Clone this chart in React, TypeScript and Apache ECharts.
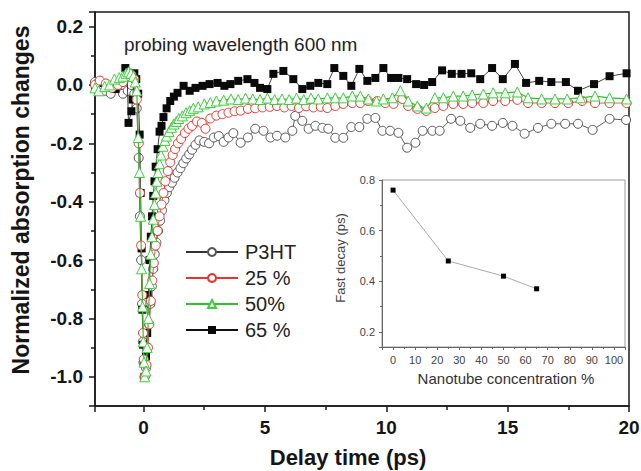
import React, { useEffect, useRef } from 'react';
import * as echarts from 'echarts';

const FONT = '"Liberation Sans", Arial, sans-serif';

// Main chart series: [delay time (ps), normalized absorption change]
const p3htData: number[][] = [
  [-2.0, 0.01], [-1.8, 0.01], [-1.6, -0.02], [-1.35, -0.03], [-1.1, -0.01], [-0.85, -0.03], [-0.65, -0.02], [-0.5, 0.0], [-0.38, -0.03], [-0.28, -0.08],
  [-0.2, -0.25], [-0.15, -0.45], [-0.1, -0.6], [-0.06, -0.75], [-0.03, -0.88], [0.0, -0.95], [0.04, -1.0],
  [0.1, -0.97], [0.16, -0.9], [0.22, -0.82], [0.28, -0.75], [0.34, -0.69], [0.4, -0.63], [0.46, -0.58], [0.53, -0.54], [0.6, -0.5], [0.68, -0.465], [0.76, -0.43], [0.86, -0.395], [0.96, -0.37], [1.06, -0.35], [1.17, -0.335], [1.28, -0.318], [1.4, -0.3], [1.52, -0.285], [1.64, -0.268], [1.76, -0.252], [1.88, -0.238], [2.0, -0.222], [2.14, -0.205], [2.3, -0.19], [2.5, -0.195], [2.7, -0.2], [2.9, -0.18], [3.1, -0.175], [3.3, -0.195], [3.5, -0.18], [3.7, -0.165], [4.0, -0.198], [4.3, -0.18], [4.6, -0.15], [4.94, -0.157], [5.23, -0.18], [5.5, -0.174], [5.84, -0.18], [6.13, -0.157], [6.25, -0.106], [6.54, -0.123], [6.8, -0.15], [7.08, -0.14],
  [7.37, -0.147], [7.61, -0.15], [7.9, -0.181], [8.23, -0.181], [8.56, -0.144], [8.89, -0.144], [9.22, -0.116], [9.55, -0.113], [9.84, -0.157], [10.16, -0.157], [10.5, -0.164], [10.86, -0.215], [11.2, -0.198], [11.5, -0.157], [11.9, -0.157], [12.2, -0.157], [12.67, -0.116], [13.05, -0.123], [13.46, -0.147], [13.87, -0.133], [14.36, -0.14], [14.8, -0.13], [15.2, -0.14], [15.7, -0.167], [16.25, -0.147], [16.8, -0.133], [17.37, -0.133], [17.9, -0.133], [18.5, -0.154], [19.2, -0.116], [19.88, -0.12],
];

const pct25Data: number[][] = [
  [-2.0, 0.0], [-1.8, 0.015], [-1.55, 0.005], [-1.3, -0.01], [-1.05, 0.0], [-0.85, 0.01], [-0.65, 0.03], [-0.5, 0.035], [-0.38, 0.02], [-0.28, -0.05],
  [-0.2, -0.2], [-0.15, -0.37], [-0.1, -0.55], [-0.05, -0.72], [-0.02, -0.85], [0.01, -0.94], [0.05, -1.0],
  [0.12, -0.96], [0.18, -0.9], [0.24, -0.82], [0.3, -0.74], [0.36, -0.67], [0.42, -0.61], [0.5, -0.55], [0.58, -0.5], [0.66, -0.45], [0.74, -0.41], [0.82, -0.37], [0.9, -0.33], [1.0, -0.295], [1.1, -0.265], [1.2, -0.24], [1.3, -0.22], [1.42, -0.2], [1.55, -0.185], [1.7, -0.165], [1.85, -0.15], [2.0, -0.14], [2.2, -0.125], [2.4, -0.13], [2.55, -0.15], [2.75, -0.115], [3.0, -0.105], [3.25, -0.1], [3.5, -0.095], [3.75, -0.09], [4.0, -0.088], [4.3, -0.082], [4.6, -0.08], [4.9, -0.077], [5.2, -0.075], [5.5, -0.072], [5.8, -0.077], [6.1, -0.072], [6.4, -0.079], [6.7, -0.073], [7.0, -0.077], [7.3, -0.075],
  [7.57, -0.079], [7.9, -0.072], [8.23, -0.065], [8.6, -0.062], [8.93, -0.062], [9.26, -0.055], [9.63, -0.055], [9.96, -0.062], [10.3, -0.065], [10.66, -0.048], [10.9, -0.072], [11.28, -0.082], [11.65, -0.089], [12.0, -0.079], [12.35, -0.072], [12.76, -0.065], [13.17, -0.065], [13.54, -0.062], [14.0, -0.062], [14.4, -0.055], [14.9, -0.055], [15.4, -0.051], [15.84, -0.062], [16.4, -0.062], [16.95, -0.062], [17.5, -0.062], [18.07, -0.055], [18.6, -0.062], [19.2, -0.062], [19.9, -0.062],
];

const pct50Data: number[][] = [
  [-2.0, -0.01], [-1.85, -0.02], [-1.6, -0.005], [-1.4, 0.0], [-1.2, 0.02], [-1.0, 0.025], [-0.85, 0.03], [-0.72, 0.04], [-0.62, 0.045], [-0.52, 0.04], [-0.42, 0.03], [-0.34, 0.01], [-0.28, -0.02],
  [-0.22, -0.18], [-0.17, -0.3], [-0.12, -0.45], [-0.08, -0.63], [-0.04, -0.76], [-0.01, -0.88], [0.02, -0.95], [0.05, -1.0],
  [0.1, -0.98], [0.15, -0.9], [0.2, -0.8], [0.25, -0.68], [0.3, -0.58], [0.35, -0.52], [0.4, -0.46], [0.45, -0.41], [0.5, -0.37], [0.55, -0.33], [0.6, -0.3], [0.66, -0.27], [0.72, -0.24], [0.8, -0.21], [0.88, -0.19], [0.95, -0.175], [1.05, -0.16], [1.15, -0.145], [1.25, -0.134], [1.35, -0.125], [1.45, -0.115], [1.6, -0.106], [1.75, -0.095], [1.9, -0.088], [2.05, -0.08], [2.25, -0.075], [2.5, -0.065], [2.75, -0.06], [3.0, -0.055], [3.3, -0.052], [3.6, -0.048], [3.9, -0.05], [4.2, -0.045], [4.5, -0.048], [4.8, -0.05], [5.1, -0.045], [5.4, -0.05], [5.7, -0.048], [6.0, -0.05], [6.3, -0.045], [6.6, -0.05], [6.9, -0.045], [7.2, -0.048],
  [7.57, -0.044], [7.9, -0.044], [8.23, -0.044], [8.6, -0.038], [8.93, -0.038], [9.26, -0.048], [9.6, -0.055], [9.88, -0.048], [10.25, -0.044], [10.58, -0.02], [10.9, -0.055], [11.28, -0.072], [11.65, -0.079], [12.0, -0.044], [12.35, -0.044], [12.76, -0.038], [13.17, -0.038], [13.54, -0.034], [14.0, -0.031], [14.4, -0.027], [14.9, -0.027], [15.4, -0.024], [15.84, -0.044], [16.4, -0.048], [16.95, -0.048], [17.45, -0.048], [18.0, -0.044], [18.6, -0.038], [19.2, -0.044], [19.9, -0.048],
];

const pct65Data: number[][] = [
  [-2.0, -0.01], [-1.85, 0.007], [-1.5, -0.003], [-1.15, -0.014], [-0.9, 0.01], [-0.75, 0.058], [-0.68, 0.04], [-0.62, -0.13], [-0.5, -0.09], [-0.45, -0.05], [-0.38, 0.04], [-0.3, 0.02], [-0.22, -0.03],
  [-0.16, -0.17], [-0.12, -0.37], [-0.08, -0.56], [-0.05, -0.77], [-0.02, -0.89], [0.01, -0.95], [0.04, -1.0],
  [0.1, -0.93], [0.15, -0.85], [0.2, -0.72], [0.25, -0.6], [0.3, -0.52], [0.35, -0.45], [0.4, -0.38], [0.45, -0.33], [0.5, -0.28], [0.58, -0.22], [0.66, -0.16], [0.74, -0.14], [0.82, -0.11], [0.95, -0.08], [1.1, -0.055], [1.25, -0.04], [1.4, -0.027], [1.65, -0.003], [1.9, -0.02], [2.14, -0.01], [2.43, -0.003], [2.72, 0.003], [3.05, 0.007], [3.33, -0.003], [3.58, 0.003], [3.9, 0.014], [4.28, 0.02], [4.57, 0.007], [4.8, -0.01], [5.1, -0.014], [5.35, 0.038], [5.76, 0.048], [6.17, 0.02], [6.54, -0.014], [6.87, -0.003], [7.2, 0.007],
  [7.57, 0.003], [7.86, 0.058], [8.23, 0.031], [8.56, -0.003], [8.89, 0.055], [9.22, 0.014], [9.55, 0.024], [9.88, 0.058], [10.2, 0.024], [10.5, 0.024], [10.86, 0.02], [11.23, 0.003], [11.56, 0.0], [11.89, 0.01], [12.3, 0.05], [12.7, 0.038], [13.1, 0.038], [13.5, 0.04], [13.87, 0.02], [14.36, 0.058], [14.8, 0.02], [15.3, 0.072], [15.76, 0.007], [16.3, 0.014], [16.8, 0.01], [17.4, 0.01], [17.9, -0.02], [18.56, 0.003], [19.2, 0.03], [19.9, 0.04],
];

// Inset
const insetConcentration = [0, 25, 50, 65];
const insetFastDecay = [0.76, 0.48, 0.42, 0.37];

const seriesNames = ['P3HT', '25 %', '50%', '65 %'];

function yLabel(v: number): string {
  const k = Math.round(v * 10);
  if (Math.abs(v * 10 - k) > 1e-6) return '';
  if (k % 2 !== 0 || k < -10 || k > 2) return '';
  return (k / 10).toFixed(1);
}

export default function App() {
  const ref = useRef<HTMLDivElement>(null);
  useEffect(() => {
    const chart = echarts.init(ref.current!, null, { renderer: 'svg' });
    const axisColor = '#1a1a1a';
    const option: any = {
      animation: false,
      backgroundColor: '#ffffff',
      grid: [
        { left: 95, top: 12, width: 534, height: 394, show: true, borderColor: axisColor, borderWidth: 1.5, outerBoundsMode: 'none', containLabel: false },
        { left: 382, top: 180, width: 243, height: 167, show: true, borderColor: '#9a9a9a', borderWidth: 1, backgroundColor: '#fff', outerBoundsMode: 'none', containLabel: false },
      ],
      xAxis: [
        {
          type: 'value', gridIndex: 0, min: -2, max: 20, splitNumber: 4,
          axisLine: { onZero: false, lineStyle: { color: axisColor, width: 1.5 } },
          axisTick: { length: 6, lineStyle: { color: axisColor, width: 1.5 } },
          minorTick: { show: true, splitNumber: 2, length: 4, lineStyle: { color: axisColor, width: 1.5 } },
          splitLine: { show: false },
          axisLabel: {
            margin: 12, fontSize: 19, fontWeight: 'bold', fontFamily: FONT, color: '#151515',
            formatter: (v: number) => (Math.abs(v % 5) < 1e-9 ? String(v) : ''),
          },
        },
        {
          type: 'value', gridIndex: 1, min: -5, max: 105, splitNumber: 11,
          axisLine: { onZero: false, lineStyle: { color: '#666', width: 1 } },
          axisTick: { length: 3, lineStyle: { color: '#666' } },
          minorTick: { show: true, splitNumber: 2, length: 2, lineStyle: { color: '#666' } },
          splitLine: { show: false },
          axisLabel: {
            margin: 7, fontSize: 11, fontFamily: FONT, color: '#444',
            formatter: (v: number) => (v >= 0 && v <= 100 && Math.abs(v % 10) < 1e-9 ? String(v) : ''),
          },
        },
      ],
      yAxis: [
        {
          type: 'value', gridIndex: 0, min: -1.1, max: 0.25, splitNumber: 6,
          axisLine: { onZero: false, lineStyle: { color: axisColor, width: 1.5 } },
          axisTick: { length: 6, lineStyle: { color: axisColor, width: 1.5 } },
          minorTick: { show: true, splitNumber: 2, length: 4, lineStyle: { color: axisColor, width: 1.5 } },
          splitLine: { show: false },
          axisLabel: { margin: 12, fontSize: 19, fontWeight: 'bold', fontFamily: FONT, color: '#151515', formatter: yLabel },
        },
        {
          type: 'value', gridIndex: 1, min: 0.14, max: 0.8, splitNumber: 3,
          axisLine: { onZero: false, lineStyle: { color: '#666', width: 1 } },
          axisTick: { length: 3, lineStyle: { color: '#666' } },
          minorTick: { show: true, splitNumber: 2, length: 2, lineStyle: { color: '#666' } },
          splitLine: { show: false },
          axisLabel: {
            margin: 7, fontSize: 11, fontFamily: FONT, color: '#444',
            formatter: (v: number) => {
              const k = Math.round(v * 10);
              if (Math.abs(v * 10 - k) > 1e-6 || k % 2 !== 0) return '';
              return (k / 10).toFixed(1);
            },
          },
        },
      ],
      legend: {
        orient: 'vertical', left: 180, top: 237, itemWidth: 52, itemHeight: 10, itemGap: 6,
        data: seriesNames,
        textStyle: { fontSize: 20, fontFamily: FONT, color: '#222', padding: [0, 0, 0, 2] },
      },
      series: [
        {
          name: seriesNames[0], type: 'line', data: p3htData, z: 2,
          symbol: 'circle', symbolSize: 9,
          itemStyle: { color: '#ffffff', borderColor: '#555', borderWidth: 1 },
          lineStyle: { color: '#333', width: 0.8 },
        },
        {
          name: seriesNames[1], type: 'line', data: pct25Data, z: 4,
          symbol: 'circle', symbolSize: 9,
          itemStyle: { color: '#ffffff', borderColor: '#e5352f', borderWidth: 1 },
          lineStyle: { color: '#e5352f', width: 0.8 },
        },
        {
          name: seriesNames[2], type: 'line', data: pct50Data, z: 5,
          symbol: 'triangle', symbolSize: 10,
          itemStyle: { color: '#ffffff', borderColor: '#3ccf3c', borderWidth: 1 },
          lineStyle: { color: '#2fbf2f', width: 1.2 },
        },
        {
          name: seriesNames[3], type: 'line', data: pct65Data, z: 3,
          symbol: 'rect', symbolSize: 8,
          itemStyle: { color: '#0a0a0a', borderColor: '#0a0a0a', borderWidth: 0 },
          lineStyle: { color: '#111', width: 0.8 },
        },
        {
          name: 'inset', type: 'line', xAxisIndex: 1, yAxisIndex: 1, z: 6,
          data: insetConcentration.map((c, i) => [c, insetFastDecay[i]]),
          symbol: 'rect', symbolSize: 5,
          itemStyle: { color: '#000' },
          lineStyle: { color: '#aaa', width: 1 },
        },
      ],
      graphic: [
        { type: 'text', x: 124, y: 44, style: { text: 'probing wavelength 600 nm', font: `19px ${FONT}`, fill: '#222', verticalAlign: 'middle', align: 'left' } },
        { type: 'text', x: 21, y: 200, rotation: Math.PI / 2, style: { text: 'Normalized absorption changes', font: `bold 23px ${FONT}`, fill: '#151515', align: 'center', verticalAlign: 'middle' } },
        { type: 'text', x: 348, y: 457, style: { text: 'Delay time (ps)', font: `bold 22px ${FONT}`, fill: '#151515', align: 'center', verticalAlign: 'middle' } },
        { type: 'text', x: 340, y: 258, rotation: Math.PI / 2, style: { text: 'Fast decay (ps)', font: `13px ${FONT}`, fill: '#444', align: 'center', verticalAlign: 'middle' } },
        { type: 'text', x: 506, y: 378, style: { text: 'Nanotube concentration %', font: `15px ${FONT}`, fill: '#333', align: 'center', verticalAlign: 'middle' } },
      ],
    };
    chart.setOption(option);
    return () => chart.dispose();
  }, []);
  return (
    <div
      ref={ref}
      style={{ position: 'absolute', left: 0, top: 0, width: 641, height: 471, background: '#fff' }}
    />
  );
}
